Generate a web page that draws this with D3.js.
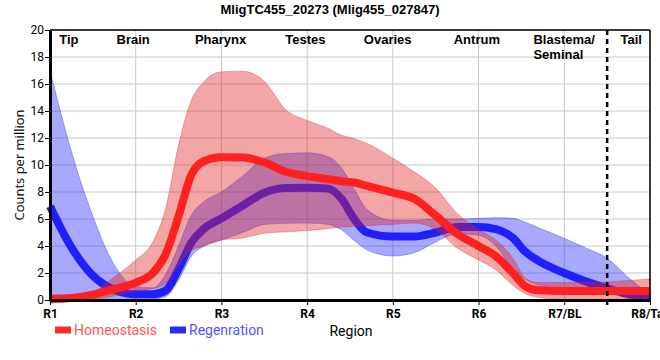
<!DOCTYPE html>
<html><head><meta charset="utf-8">
<script src="https://cdn.jsdelivr.net/npm/d3@7/dist/d3.min.js"></script>
<style>body{margin:0;background:#fff}svg{display:block}</style>
</head><body><svg id="c" width="660" height="360"></svg>
<script>
const categories = ["R1","R2","R3","R4","R5","R6","R7/BL","R8/Tail"];
const regionNames = ["Tip","Brain","Pharynx","Testes","Ovaries","Antrum","Blastema/\nSeminal","Tail"];
const yTicks = [0,2,4,6,8,10,12,14,16,18,20];
// sample positions along the region axis (0 = R1 ... 7 = R8/Tail)
const pos = [0,0.25,0.5,0.75,1,1.2,1.35,1.5,1.65,1.8,2,2.25,2.5,2.75,3,3.25,3.4,3.55,3.7,4,4.25,4.5,4.75,5,5.2,5.4,5.55,5.7,6,6.25,6.5,6.75,7];
const homMean = [0.1,0.15,0.4,0.8,1.28,2.0,3.4,6.2,9.3,10.3,10.57,10.55,10.2,9.5,9.18,8.95,8.8,8.7,8.45,7.95,7.5,6.25,4.9,4.0,3.25,2.0,1.0,0.72,0.67,0.67,0.67,0.67,0.67];
const homHigh = [0.2,0.3,0.6,1.7,2.96,4.3,6.8,11.5,14.8,16.2,16.9,16.95,16.2,14.1,13.3,12.7,12.2,11.95,11.6,10.5,9.5,8.3,6.4,5.2,4.45,3.1,1.6,1.3,1.3,1.3,1.33,1.45,1.55];
const homLow  = [-0.25,-0.1,0.05,0.3,0.7,0.85,1.2,2.6,3.65,4.0,4.44,4.6,4.94,5.05,5.14,5.3,5.4,5.47,5.52,5.6,5.7,5.2,3.85,2.96,2.25,1.1,0.45,0.2,0.05,0.05,0.05,0.08,0.1];
const regMean = [6.95,3.9,1.8,0.75,0.42,0.42,0.7,2.3,4.25,5.3,6.05,7.0,7.95,8.3,8.32,8.25,7.5,6.0,5.0,4.7,4.7,5.0,5.4,5.4,5.25,4.6,3.55,2.9,2.0,1.38,0.86,0.42,0.12];
const regHigh = [17,11,6.2,2.6,1.0,0.9,1.9,4.0,6.3,7.3,8.0,9.2,10.5,10.85,10.9,10.6,9.8,8.2,6.7,5.9,5.9,6.0,6.0,6.05,6.1,6.05,5.75,5.35,4.57,3.85,3.1,1.65,0.37];
const regLow  = [0,0,0.02,0.05,0.05,0.08,0.25,1.5,3.25,4.0,4.44,5.0,5.6,5.68,5.7,5.6,5.2,4.4,3.7,3.26,3.5,4.3,4.9,4.8,4.0,2.3,1.5,1.1,0.74,0.6,0.5,0.3,-0.1];
const seriesNames = ["Homeostasis","Regenration"];

const svg = d3.select("#c");
const M = {l:50, r:650, t:30, b:300};
const x = d3.scaleLinear().domain([0,7]).range([M.l, M.r]);
const y = d3.scaleLinear().domain([0,20]).range([M.b, M.t]);
const font = "'Liberation Sans', Arial, sans-serif";
const font2 = "Roboto, 'Noto Sans', sans-serif";

// grid
const g = svg.append("g");
g.selectAll("line.h").data(yTicks).join("line")
  .attr("x1",M.l).attr("x2",M.r).attr("y1",d=>y(d)).attr("y2",d=>y(d))
  .attr("stroke","#c8c8c8").attr("stroke-width",1);
g.selectAll("line.v").data(categories).join("line")
  .attr("x1",(d,i)=>x(i)).attr("x2",(d,i)=>x(i)).attr("y1",M.t).attr("y2",M.b)
  .attr("stroke","#c8c8c8").attr("stroke-width",1);

function band(hi, lo){
  return d3.area().x((d,i)=>x(pos[i])).y0((d,i)=>y(lo[i])).y1((d,i)=>y(hi[i])).curve(d3.curveMonotoneX)(pos);
}
function line(v){
  return d3.line().x((d,i)=>x(pos[i])).y((d,i)=>y(v[i])).curve(d3.curveMonotoneX)(pos);
}
// regeneration first
svg.append("path").attr("d",band(regHigh,regLow)).attr("fill","rgb(37,37,247)").attr("fill-opacity",0.4)
  .attr("stroke","rgb(37,37,247)").attr("stroke-opacity",0.35).attr("stroke-width",1);
svg.append("path").attr("d",line(regMean)).attr("fill","none").attr("stroke","#2020ff").attr("stroke-width",8);
svg.append("path").attr("d",band(homHigh,homLow)).attr("fill","rgb(222,33,33)").attr("fill-opacity",0.4)
  .attr("stroke","rgb(222,33,33)").attr("stroke-opacity",0.35).attr("stroke-width",1);
svg.append("path").attr("d",line(homMean)).attr("fill","none").attr("stroke","#ff2020").attr("stroke-width",8);

// borders
svg.append("line").attr("x1",M.l).attr("x2",M.r).attr("y1",M.t).attr("y2",M.t).attr("stroke","#000").attr("stroke-width",1.5);
svg.append("line").attr("x1",M.r).attr("x2",M.r).attr("y1",M.t).attr("y2",M.b).attr("stroke","#000").attr("stroke-width",1.5);

// dashed separator between R7 and R8
svg.append("line").attr("x1",x(6.5)).attr("x2",x(6.5)).attr("y1",M.t).attr("y2",M.b+5)
  .attr("stroke","#000").attr("stroke-width",2.5).attr("stroke-dasharray","5,4");

// axes
const yAxis = svg.append("g").attr("transform",`translate(${M.l},0)`)
  .call(d3.axisLeft(y).tickValues(yTicks).tickSize(5).tickSizeOuter(0));
yAxis.select(".domain").attr("stroke-width",3);
yAxis.selectAll("text").attr("font-family",font2).attr("font-size",12).attr("fill","#000").attr("x",-6);
const xAxis = svg.append("g").attr("transform",`translate(0,${M.b})`)
  .call(d3.axisBottom(x).tickValues(d3.range(categories.length)).tickFormat(i=>categories[i]).tickSize(5).tickSizeOuter(0));
xAxis.select(".domain").attr("stroke-width",3);
xAxis.selectAll("text").attr("font-family",font2).attr("font-size",12).attr("font-weight","bold").attr("fill","#000").attr("dy","0.85em");

// region labels on top
const regionPos = [0.22,0.97,1.99,2.98,3.94,4.98,5.64,6.78];
regionNames.forEach((n,i)=>{
  const lines = n.split("\n");
  const t = svg.append("text").attr("x",x(regionPos[i])).attr("y",44)
    .attr("text-anchor", lines.length>1 ? "start" : "middle")
    .attr("font-family",font).attr("font-weight","bold").attr("font-size",13).attr("fill","#000");
  lines.forEach((l,j)=>t.append("tspan").attr("x",x(regionPos[i])).attr("dy",j?15:0).text(l));
});

// title
svg.append("text").attr("x",330).attr("y",14).attr("text-anchor","middle")
  .attr("font-family",font).attr("font-weight","bold").attr("font-size",13).text("MligTC455_20273 (Mlig455_027847)");

// y label
svg.append("text").attr("transform","translate(24,165) rotate(-90)").attr("text-anchor","middle")
  .attr("font-family","'Open Sans', sans-serif").attr("font-size",13).text("Counts per million");
// x label
svg.append("text").attr("x",351).attr("y",336).attr("text-anchor","middle")
  .attr("font-family",font2).attr("font-size",14).text("Region");

// legend
const legCol = ["#ff2a2a","#2a2aff"], legText = ["#ff5555","#5555ff"], legX = [55,170];
seriesNames.forEach((s,i)=>{
  svg.append("rect").attr("x",legX[i]).attr("y",326.5).attr("width",16).attr("height",7).attr("fill",legCol[i]);
  svg.append("text").attr("x",legX[i]+19).attr("y",335).attr("font-family",font2).attr("font-size",14)
    .attr("fill",legText[i]).text(s);
});
</script></body></html>
